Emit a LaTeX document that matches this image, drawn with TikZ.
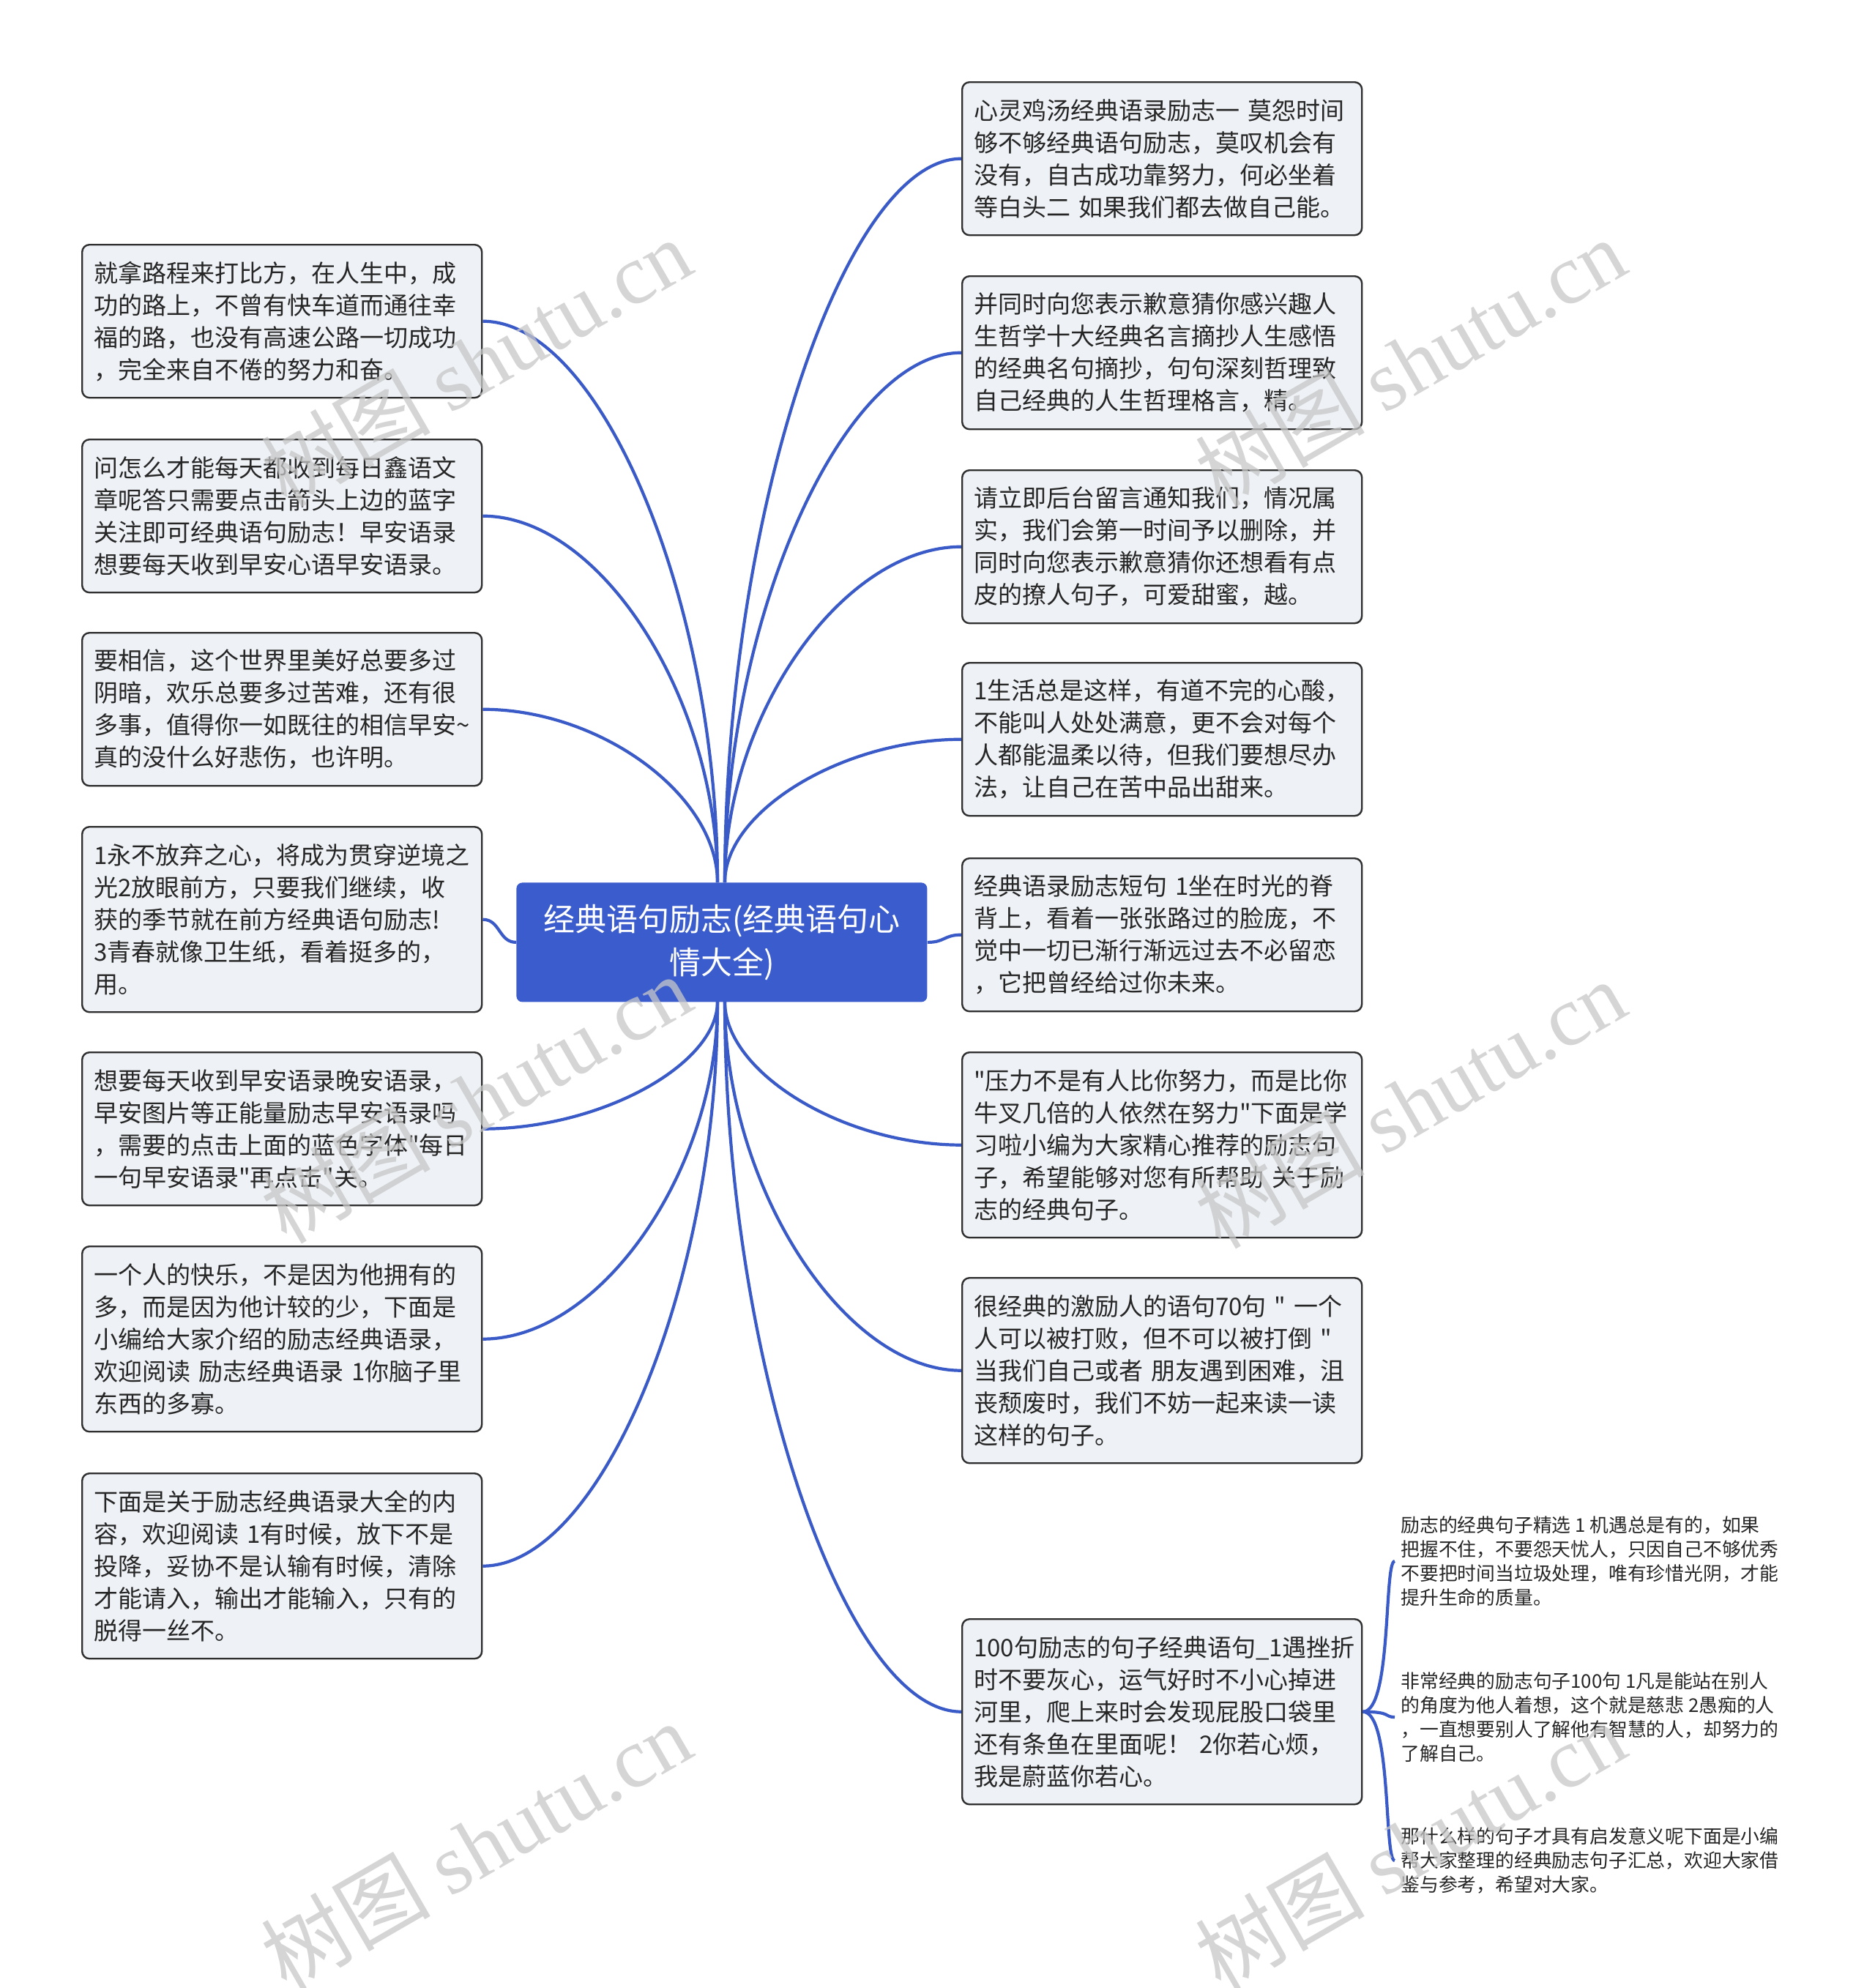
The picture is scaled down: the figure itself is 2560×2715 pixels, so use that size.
\documentclass[tikz,border=0pt]{standalone}
\usepackage{fontspec}
\newfontfamily\cjk{Noto Sans CJK SC}
\newfontfamily\wmserif{Liberation Serif}
\usetikzlibrary{calc}
\definecolor{conncol}{RGB}{58,91,199}
\definecolor{centcol}{RGB}{59,92,204}
\definecolor{boxfill}{RGB}{238,241,245}
\definecolor{boxline}{RGB}{47,47,47}
\tikzset{
  conn/.style={draw=conncol, line width=2.1pt},
  tbox/.style={draw=boxline, line width=1.2pt, fill=boxfill, rounded corners=5pt,
    anchor=north west, text width=257pt, inner xsep=8pt, inner ysep=0pt,
    align=left, font=\cjk\fontsize{16.5pt}{22pt}\selectfont, text=black!85},
  four/.style={minimum height=104.5pt},
  five/.style={minimum height=126.5pt},
  leaf/.style={anchor=west, inner xsep=4pt, inner ysep=0pt, align=left,
    font=\cjk\fontsize{12.9pt}{16.6pt}\selectfont, text=black!85},
  wm/.style={text=black!22, opacity=0.75, rotate=30, font=\cjk\fontsize{58pt}{60pt}\selectfont}
}
\begin{document}
\begin{tikzpicture}[x=0.5pt,y=-0.5pt]
\useasboundingbox[fill=white] (0,0) rectangle (2560,2715);

% centre
\node[fill=centcol, rounded corners=4pt, anchor=north west, minimum width=280.5pt,
  minimum height=81.5pt, text width=270pt, align=center, inner sep=0pt, text=white,
  font=\cjk\fontsize{21.5pt}{29.5pt}\selectfont] (c) at (705,1205)
  {经典语句励志(经典语句心\\情大全)};

% left boxes
\node[tbox,four] (l1) at (111,333) {就拿路程来打比方，在人生中，成\\功的路上，不曾有快车道而通往幸\\福的路，也没有高速公路一切成功\\，完全来自不倦的努力和奋。};
\node[tbox,four] (l2) at (111,599) {问怎么才能每天都收到每日鑫语文\\章呢答只需要点击箭头上边的蓝字\\关注即可经典语句励志！早安语录\\想要每天收到早安心语早安语录。};
\node[tbox,four] (l3) at (111,863) {要相信，这个世界里美好总要多过\\阴暗，欢乐总要多过苦难，还有很\\多事，值得你一如既往的相信早安\textasciitilde\\真的没什么好悲伤，也许明。};
\node[tbox,five] (l4) at (111,1128) {1永不放弃之心，将成为贯穿逆境之\\光2放眼前方，只要我们继续，收\\获的季节就在前方经典语句励志!\\3青春就像卫生纸，看着挺多的，\\用。};
\node[tbox,four] (l5) at (111,1436) {想要每天收到早安语录晚安语录，\\早安图片等正能量励志早安语录吗\\，需要的点击上面的蓝色字体"每日\\一句早安语录"再点击"关。};
\node[tbox,five] (l6) at (111,1701) {一个人的快乐，不是因为他拥有的\\多，而是因为他计较的少，下面是\\小编给大家介绍的励志经典语录，\\欢迎阅读~励志经典语录~1你脑子里\\东西的多寡。};
\node[tbox,five] (l7) at (111,2011) {下面是关于励志经典语录大全的内\\容，欢迎阅读~1有时候，放下不是\\投降，妥协不是认输有时候，清除\\才能请入，输出才能输入，只有的\\脱得一丝不。};

% right boxes
\node[tbox,four] (r1) at (1313,111) {心灵鸡汤经典语录励志一~莫怨时间\\够不够经典语句励志，莫叹机会有\\没有，自古成功靠努力，何必坐着\\等白头二~如果我们都去做自己能。};
\node[tbox,four] (r2) at (1313,376) {并同时向您表示歉意猜你感兴趣人\\生哲学十大经典名言摘抄人生感悟\\的经典名句摘抄，句句深刻哲理致\\自己经典的人生哲理格言，精。};
\node[tbox,four] (r3) at (1313,641) {请立即后台留言通知我们，情况属\\实，我们会第一时间予以删除，并\\同时向您表示歉意猜你还想看有点\\皮的撩人句子，可爱甜蜜，越。};
\node[tbox,four] (r4) at (1313,904) {1生活总是这样，有道不完的心酸，\\不能叫人处处满意，更不会对每个\\人都能温柔以待，但我们要想尽办\\法，让自己在苦中品出甜来。};
\node[tbox,four] (r5) at (1313,1171) {经典语录励志短句~1坐在时光的脊\\背上，看着一张张路过的脸庞，不\\觉中一切已渐行渐远过去不必留恋\\，它把曾经给过你未来。};
\node[tbox,five] (r6) at (1313,1436) {"压力不是有人比你努力，而是比你\\牛叉几倍的人依然在努力"下面是学\\习啦小编为大家精心推荐的励志句\\子，希望能够对您有所帮助~关于励\\志的经典句子。};
\node[tbox,five] (r7) at (1313,1744) {很经典的激励人的语句70句~"~一个\\人可以被打败，但不可以被打倒~"\\当我们自己或者~朋友遇到困难，沮\\丧颓废时，我们不妨一起来读一读\\这样的句子。};
\node[tbox,five] (r8) at (1313,2210) {100句励志的句子经典语句\_1遇挫折\\时不要灰心，运气好时不小心掉进\\河里，爬上来时会发现屁股口袋里\\还有条鱼在里面呢！~2你若心烦，\\我是蔚蓝你若心。};

% leaves
\node[leaf] (f1) at (1905,2132) {励志的经典句子精选~1~机遇总是有的，如果\\把握不住，不要怨天忧人，只因自己不够优秀\\不要把时间当垃圾处理，唯有珍惜光阴，才能\\提升生命的质量。};
\node[leaf] (f2) at (1905,2345) {非常经典的励志句子100句~1凡是能站在别人\\的角度为他人着想，这个就是慈悲~2愚痴的人\\，一直想要别人了解他有智慧的人，却努力的\\了解自己。};
\node[leaf] (f3) at (1905,2541) {那什么样的句子才具有启发意义呢下面是小编\\帮大家整理的经典励志句子汇总，欢迎大家借\\鉴与参考，希望对大家。};

% connector start points
\coordinate (clt) at (980,1205);
\coordinate (crt) at (990,1205);
\coordinate (clb) at (980,1368);
\coordinate (crb) at (990,1368);

\begin{scope}[conn]
\draw (clt) .. controls +(0,-384) and +(161,0) .. (l1.east);
\draw (clt) .. controls +(0,-251) and +(161,0) .. (l2.east);
\draw (clt) .. controls +(0,-119) and +(161,0) .. (l3.east);
\draw (c.west) .. controls +(-24,0) and +(24,0) .. (l4.east);
\draw (clb) .. controls +(0,86) and +(161,0) .. (l5.east);
\draw (clb) .. controls +(0,230) and +(161,0) .. (l6.east);
\draw (clb) .. controls +(0,385) and +(161,0) .. (l7.east);
\draw (crt) .. controls +(0,-495) and +(-161,0) .. (r1.west);
\draw (crt) .. controls +(0,-362) and +(-161,0) .. (r2.west);
\draw (crt) .. controls +(0,-230) and +(-161,0) .. (r3.west);
\draw (crt) .. controls +(0,-98) and +(-161,0) .. (r4.west);
\draw (c.east) .. controls +(24,0) and +(-24,0) .. (r5.west);
\draw (crb) .. controls +(0,97) and +(-161,0) .. (r6.west);
\draw (crb) .. controls +(0,251) and +(-161,0) .. (r7.west);
\draw (crb) .. controls +(0,484) and +(-161,0) .. (r8.west);
\draw (r8.east) .. controls +(40,0) and +(-15,0) .. (f1.west);
\draw (r8.east) .. controls +(40,0) and +(-15,0) .. (f2.west);
\draw (r8.east) .. controls +(40,0) and +(-15,0) .. (f3.west);
\end{scope}

% watermarks
\node[wm] (w1) at (650,494) {树图 {\wmserif shutu.cn}};
\node[wm] (w2) at (1926,494) {树图 {\wmserif shutu.cn}};
\node[wm] (w3) at (650,1500) {树图 {\wmserif shutu.cn}};
\node[wm] (w4) at (1926,1507) {树图 {\wmserif shutu.cn}};
\node[wm] (w5) at (650,2520) {树图 {\wmserif shutu.cn}};
\node[wm] (w6) at (1926,2520) {树图 {\wmserif shutu.cn}};
\end{tikzpicture}
\end{document}
